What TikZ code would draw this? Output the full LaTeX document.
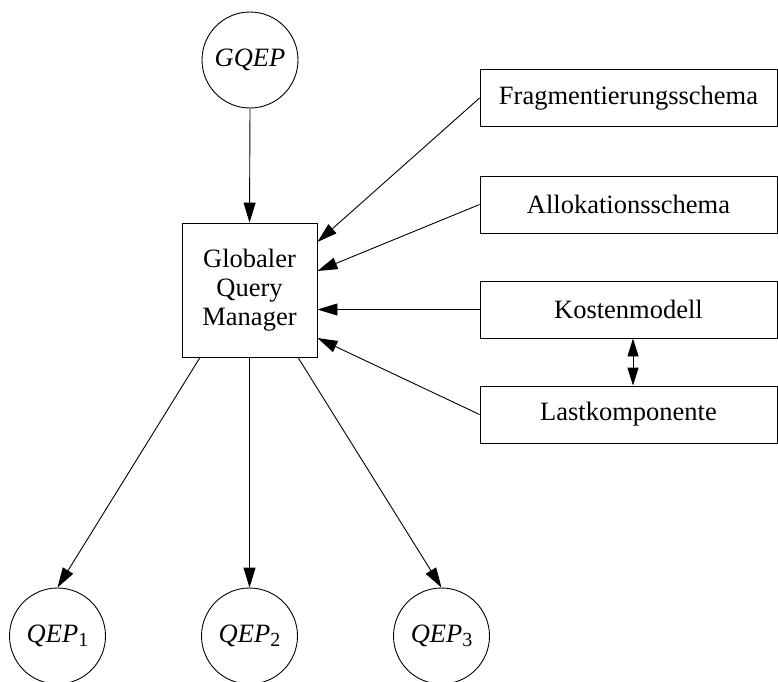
\documentclass[tikz,border=0pt]{standalone}
\usepackage{fontspec}
\setmainfont{Liberation Serif}
\usetikzlibrary{shapes,arrows.meta,positioning,calc}

\newcommand{\qepsub}[1]{\textit{QEP}\raisebox{-0.3ex}{\fontsize{20}{20}\selectfont #1}}

\begin{document}
\begin{tikzpicture}[
    x=1pt, y=-1pt,
    plan/.style={draw, circle, minimum size=96pt, inner sep=0pt, line width=0.9pt, font=\fontsize{26.5}{29}\selectfont},
    manager/.style={draw, rectangle, minimum width=135pt, minimum height=134pt, align=center, line width=0.9pt, font=\fontsize{26.5}{29}\selectfont},
    source/.style={draw, rectangle, minimum width=297pt, minimum height=57pt, line width=0.9pt, font=\fontsize{26.5}{29}\selectfont},
    edge/.style={-{Triangle[length=20pt,width=12pt]}, line width=0.9pt},
    both/.style={{Triangle[length=18pt,width=11pt]}-{Triangle[length=18pt,width=11pt]}, line width=0.9pt},
]
\useasboundingbox (0,0) rectangle (778,681);

% Plans
\node[plan] (gqep) at (250, 60) {\textit{GQEP}};
\node[plan] (qep1) at (57.5, 636) {\qepsub{1}};
\node[plan] (qep2) at (249.5, 636) {\qepsub{2}};
\node[plan] (qep3) at (441.5, 636) {\qepsub{3}};

% Manager
\node[manager] (gqm) at (249.5, 290) {Globaler\\Query\\Manager};

% Sources
\node[source] (frag) at (628.5, 98) {Fragmentierungsschema};
\node[source] (alloc) at (628.5, 204.5) {Allokationsschema};
\node[source] (cost) at (628.5, 309.5) {Kostenmodell};
\node[source] (load) at (628.5, 414.5) {Lastkomponente};

\draw[edge] (gqep.south) -- (gqm.north);
\draw[edge] (frag.west) -- ([yshift=48pt]gqm.east);
\draw[edge] (alloc.west) -- ([yshift=19pt]gqm.east);
\draw[edge] (cost.west) -- (cost.west -| gqm.east);
\draw[edge] (load.west) -- ([yshift=-48pt]gqm.east);
\draw[both] ([xshift=4.5pt]cost.south) -- ([xshift=4.5pt]load.north);

\draw[edge] ([xshift=-49.5pt]gqm.south) -- (qep1.north);
\draw[edge] (gqm.south) -- (qep2.north);
\draw[edge] ([xshift=48.5pt]gqm.south) -- (qep3.north);

\end{tikzpicture}
\end{document}
